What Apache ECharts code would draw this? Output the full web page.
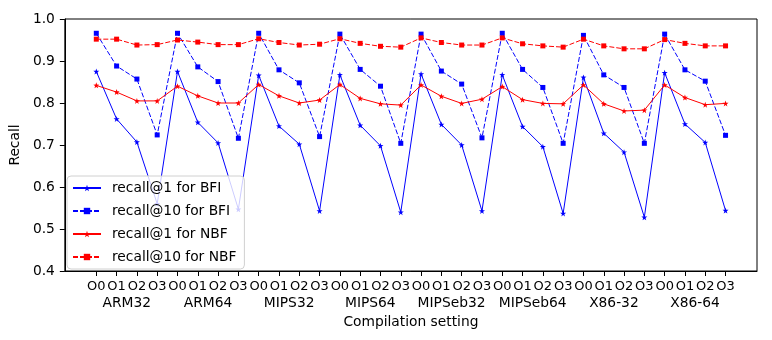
<!DOCTYPE html>
<html>
<head>
<meta charset="utf-8">
<script src="https://cdn.jsdelivr.net/npm/echarts@6/dist/echarts.min.js"></script>
<style>
html,body{margin:0;padding:0;background:#fff;}
#c{width:772px;height:340px;}
</style>
</head>
<body>
<div id="c"></div>
<script>
const archs = ['ARM32','ARM64','MIPS32','MIPS64','MIPSeb32','MIPSeb64','X86-32','X86-64'];
const levels = ['O0','O1','O2','O3'];
const yTicks = [0.4,0.5,0.6,0.7,0.8,0.9,1.0];

const recall1BFI = [0.875,0.762,0.707,0.560, 0.875,0.754,0.705,0.547, 0.866,0.745,0.702,0.543, 0.867,0.747,0.698,0.540,
                    0.869,0.749,0.700,0.543, 0.867,0.744,0.696,0.537, 0.861,0.728,0.683,0.528, 0.872,0.750,0.706,0.544];
const recall10BFI = [0.966,0.888,0.857,0.724, 0.966,0.886,0.851,0.716, 0.966,0.879,0.848,0.720, 0.964,0.880,0.840,0.704,
                     0.964,0.876,0.845,0.717, 0.966,0.880,0.837,0.704, 0.961,0.867,0.837,0.704, 0.964,0.879,0.852,0.723];
const recall1NBF = [0.842,0.826,0.805,0.805, 0.840,0.817,0.800,0.800, 0.844,0.817,0.800,0.807, 0.844,0.811,0.798,0.795,
                    0.843,0.816,0.799,0.809, 0.839,0.808,0.799,0.798, 0.843,0.798,0.781,0.783, 0.843,0.813,0.796,0.799];
const recall10NBF = [0.952,0.952,0.938,0.939, 0.950,0.945,0.939,0.939, 0.953,0.944,0.938,0.940, 0.953,0.942,0.935,0.933,
                     0.955,0.944,0.938,0.938, 0.955,0.941,0.936,0.933, 0.952,0.936,0.929,0.929, 0.951,0.942,0.936,0.936];

const tickLabels = [];
archs.forEach(a => levels.forEach(l => tickLabels.push(l)));
const tickPos = tickLabels.map((_, i) => i);
const archPos = archs.map((_, i) => i * levels.length + (levels.length - 1) / 2);

const STAR = 'path://M0,-10 L2.35,-3.24 L9.51,-3.09 L3.8,1.24 L5.88,8.09 L0,4 L-5.88,8.09 L-3.8,1.24 L-9.51,-3.09 L-2.35,-3.24 Z';
const FONT = 'DejaVu Sans';
const FS = 13.8;
const toPairs = arr => arr.map((v, i) => [i, v]);

function mkSeries(name, data, color, dashed, symbol, size) {
  return {
    name, type: 'line', data: toPairs(data),
    symbol, symbolSize: size, showSymbol: true,
    lineStyle: { color, width: 1, type: dashed ? [5, 2] : 'solid' },
    itemStyle: { color, borderWidth: 0 },
    emphasis: { disabled: true },
    animation: false, z: 3
  };
}

const chart = echarts.init(document.getElementById('c'), null, { renderer: 'canvas' });
const xmin = -1.55, xmax = tickLabels.length - 1 + 1.55;
chart.setOption({
  animation: false,
  textStyle: { fontFamily: FONT },
  grid: { left: 60, top: 19, right: 15, bottom: 69, show: true, borderColor: '#000', borderWidth: 1, backgroundColor: 'transparent' },
  xAxis: [
    {
      type: 'value', min: xmin, max: xmax, position: 'bottom',
      splitLine: { show: false },
      axisLine: { show: true, onZero: false, lineStyle: { color: '#000', width: 1 } },
      axisTick: { show: true, length: 5, customValues: tickPos, lineStyle: { color: '#000' } },
      axisLabel: { show: true, customValues: tickPos, margin: 9, fontSize: 13, color: '#000', fontFamily: FONT,
                   formatter: v => tickLabels[Math.round(v)] || '' },
      name: 'Compilation setting', nameLocation: 'middle', nameGap: 44,
      nameTextStyle: { fontSize: FS, color: '#000', fontFamily: FONT }
    },
    {
      type: 'value', min: xmin, max: xmax, position: 'bottom',
      splitLine: { show: false },
      axisLine: { show: false, onZero: false },
      axisTick: { show: false },
      axisLabel: { show: true, customValues: archPos, margin: 25, fontSize: FS, color: '#000', fontFamily: FONT,
                   formatter: v => archs[Math.floor(v / levels.length)] || '' }
    }
  ],
  yAxis: {
    type: 'value', min: yTicks[0], max: yTicks[yTicks.length - 1], interval: 0.1,
    splitLine: { show: false },
    axisLine: { show: true, onZero: false, lineStyle: { color: '#000', width: 1 } },
    axisTick: { show: true, length: 5, lineStyle: { color: '#000' } },
    axisLabel: { margin: 10, fontSize: FS, color: '#000', fontFamily: FONT, formatter: v => v.toFixed(1) },
    name: 'Recall', nameLocation: 'middle', nameGap: 38, nameRotate: 90,
    nameTextStyle: { fontSize: FS, color: '#000', fontFamily: FONT }
  },
  legend: {
    orient: 'vertical', left: 67, top: 176,
    backgroundColor: 'rgba(255,255,255,0.8)', borderColor: '#d0d0d0', borderWidth: 1, borderRadius: 4,
    padding: [5, 8, 5, 5], itemWidth: 28, itemHeight: 8, itemGap: 9,
    textStyle: { fontSize: FS, color: '#000', fontFamily: FONT, padding: [0, 0, 0, 6] },
    data: ['recall@1 for BFI', 'recall@10 for BFI', 'recall@1 for NBF', 'recall@10 for NBF']
  },
  series: [
    mkSeries('recall@1 for BFI', recall1BFI, '#0000ff', false, STAR, 6),
    mkSeries('recall@10 for BFI', recall10BFI, '#0000ff', true, 'rect', 5),
    mkSeries('recall@1 for NBF', recall1NBF, '#ff0000', false, STAR, 6),
    mkSeries('recall@10 for NBF', recall10NBF, '#ff0000', true, 'rect', 5)
  ]
});
</script>
</body>
</html>
